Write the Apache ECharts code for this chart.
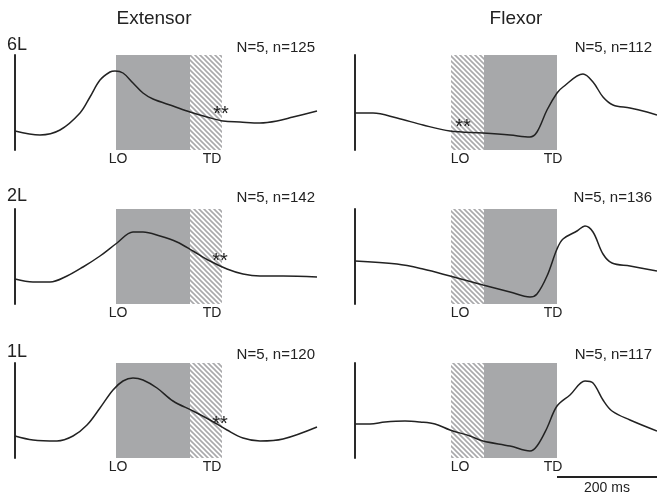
<!DOCTYPE html>
<html>
<head>
<meta charset="utf-8">
<script src="https://cdn.jsdelivr.net/npm/echarts@6/dist/echarts.min.js"></script>
<style>
  html, body { margin: 0; padding: 0; background: #fff; }
  #chart { width: 657px; height: 497px; }
</style>
</head>
<body>
<div id="chart"></div>
<script>
// time: ms from start of trace, value: arbitrary EMG units
const ext6L = [[0,19],[50,15],[90,20],[130,37],[150,53],[170,70],[190,78],[200,79],[216,77],[236,67],[256,57],[276,51],[316,44],[350,38],[384,33],[416,29],[450,28],[490,27],[524,29],[556,33],[604,39]];
const flx6L = [[0,37],[36,37],[84,32],[136,25],[190,19],[256,17],[310,15],[350,13],[364,18],[384,40],[404,57],[416,63],[456,76],[476,68],[496,53],[516,45],[550,42],[584,38],[604,35]];
const ext2L = [[0,25],[36,22],[70,22],[104,28],[136,37],[170,48],[204,61],[236,72],[256,72],[290,68],[324,62],[356,53],[390,43],[424,35],[456,30],[490,28],[536,28],[604,27]];
const flx2L = [[0,43],[84,40],[136,35],[190,28],[256,19],[310,12],[350,7],[364,10],[384,28],[404,55],[416,65],[444,73],[460,78],[476,72],[496,50],[514,41],[550,38],[604,33]];
const ext1L = [[0,22],[36,18],[84,17],[116,22],[144,33],[170,50],[196,68],[216,77],[236,80],[256,78],[284,70],[316,57],[356,47],[390,38],[424,28],[456,20],[490,17],[536,19],[604,31]];
const flx1L = [[0,34],[30,34],[60,36],[100,37],[130,36],[160,34],[190,28],[230,22],[256,17],[310,12],[350,7],[364,12],[384,30],[404,52],[430,63],[460,77],[476,75],[496,58],[514,47],[550,38],[604,27]];

const traces = [ext6L, flx6L, ext2L, flx2L, ext1L, flx1L];
const muscles = ['Extensor', 'Flexor'];
const rowNames = ['6L', '2L', '1L'];
const counts = ['N=5, n=125', 'N=5, n=112', 'N=5, n=142', 'N=5, n=136', 'N=5, n=120', 'N=5, n=117'];
const extBounds = [202, 350, 414]; // LO, end of gray, TD
const flxBounds = [192, 258, 404]; // LO, start of gray, TD
const stars = [[412, 40], [216, 27], [410, 47], null, [410, 38], null];
const scaleBar = [404, 604];

const rowTops = [55, 209, 363];
const colLefts = [15, 355];

function hatch () {
  const c = document.createElement('canvas')
  c.width = 5; c.height = 5
  const g = c.getContext('2d')
  g.fillStyle = '#fff'
  g.fillRect(0, 0, 5, 5)
  g.strokeStyle = '#a9a9ab'
  g.lineWidth = 1.6
  g.beginPath()
  for (let k = -5; k <= 5; k += 5) {
    g.moveTo(k - 1, -1)
    g.lineTo(k + 6, 6)
  }
  g.stroke()
  return c
}

const gray = '#a7a8aa'
const hatchFill = { image: hatch(), repeat: 'repeat' }

const chart = echarts.init(document.getElementById('chart'))

const grids = [], xAxes = [], yAxes = [], series = []
for (let i = 0; i < 6; i++) {
  const row = Math.floor(i / 2), col = i % 2
  grids.push({ left: colLefts[col], top: rowTops[row], width: 302, height: 95 })
  xAxes.push({ type: 'value', gridIndex: i, min: 0, max: 604, show: false })
  yAxes.push({
    type: 'value', gridIndex: i, min: 0, max: 95,
    axisLine: { show: true, lineStyle: { color: '#2a2a2a', width: 2 } },
    axisTick: { show: false }, axisLabel: { show: false }, splitLine: { show: false }
  })
  const b = col === 0 ? extBounds : flxBounds
  const areas = col === 0
    ? [[{ xAxis: b[0], itemStyle: { color: gray } }, { xAxis: b[1] }],
       [{ xAxis: b[1], itemStyle: { color: hatchFill } }, { xAxis: b[2] }]]
    : [[{ xAxis: b[0], itemStyle: { color: hatchFill } }, { xAxis: b[1] }],
       [{ xAxis: b[1], itemStyle: { color: gray } }, { xAxis: b[2] }]]
  series.push({
    type: 'line', xAxisIndex: i, yAxisIndex: i, data: traces[i],
    smooth: 0.35, symbol: 'none',
    lineStyle: { color: '#222', width: 1.5 },
    markArea: { silent: true, data: areas }
  })
}
// scale bar
grids.push({ left: colLefts[1], top: 470, width: 302, height: 14 })
xAxes.push({ type: 'value', gridIndex: 6, min: 0, max: 604, show: false })
yAxes.push({ type: 'value', gridIndex: 6, min: 0, max: 1, show: false })
series.push({
  type: 'line', xAxisIndex: 6, yAxisIndex: 6,
  data: [[scaleBar[0], 0.5], [scaleBar[1], 0.5]],
  symbol: 'none', lineStyle: { color: '#222', width: 2 }
})

chart.setOption({
  animation: false,
  grid: grids, xAxis: xAxes, yAxis: yAxes, series: series
})

const font = 'Liberation Sans, Arial, sans-serif'
const graphic = []
function text (x, y, s, size, align) {
  graphic.push({
    type: 'text', x: x, y: y, z: 100, silent: true,
    style: { text: s, fill: '#222', font: size + 'px ' + font, align: align || 'center', verticalAlign: 'middle' }
  })
}
text(154, 19, muscles[0], 19)
text(516, 19, muscles[1], 19)
const rowLabelY = [45, 196, 352]
const countY = [48, 198, 355]
for (let r = 0; r < 3; r++) text(7, rowLabelY[r], rowNames[r], 18, 'left')
for (let i = 0; i < 6; i++) {
  const row = Math.floor(i / 2), col = i % 2
  text(col === 0 ? 315 : 652, countY[row], counts[i], 15, 'right')
  const b = col === 0 ? extBounds : flxBounds
  const lo = chart.convertToPixel({ gridIndex: i }, [b[0], 0])
  const td = chart.convertToPixel({ gridIndex: i }, [b[2], 0])
  text(lo[0] + (col === 0 ? 2 : 9), lo[1] + 9, 'LO', 14)
  text(td[0] + (col === 0 ? -10 : -4), td[1] + 9, 'TD', 14)
  if (stars[i]) {
    const p = chart.convertToPixel({ gridIndex: i }, stars[i])
    text(p[0], p[1] + 4, '**', 20)
  }
}
const s0 = chart.convertToPixel({ gridIndex: 6 }, [scaleBar[0], 0.5])
const s1 = chart.convertToPixel({ gridIndex: 6 }, [scaleBar[1], 0.5])
text((s0[0] + s1[0]) / 2, s0[1] + 11, '200 ms', 14)

chart.setOption({ graphic: graphic })
</script>
</body>
</html>
